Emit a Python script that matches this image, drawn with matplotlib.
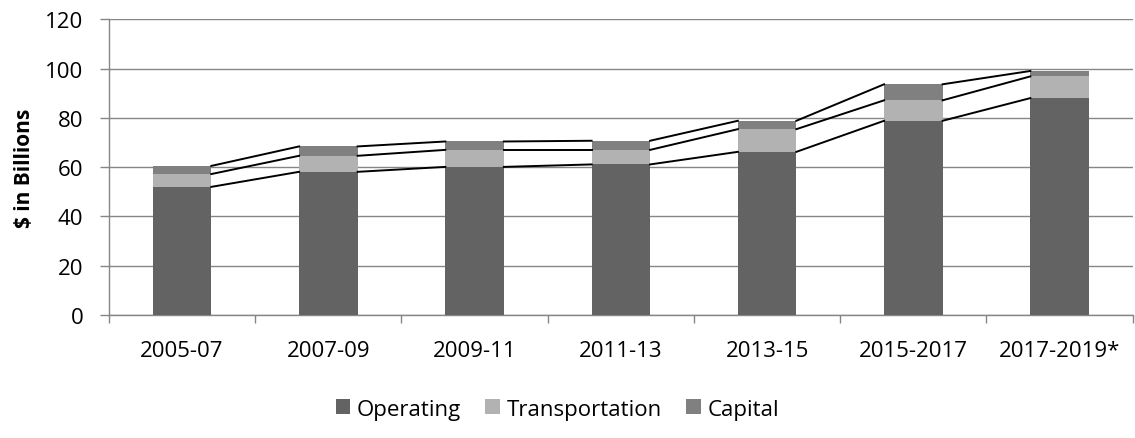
import numpy as np
import matplotlib.pyplot as plt
from matplotlib.ticker import FixedLocator

# biennium labels and values ($ in billions)
periods = ['2005-07', '2007-09', '2009-11', '2011-13', '2013-15', '2015-2017', '2017-2019*']
operating = [52.0, 58.1, 60.1, 61.1, 66.2, 78.8, 88.0]
transportation = [5.2, 6.5, 6.9, 5.9, 9.2, 8.3, 8.8]
capital = [3.3, 3.8, 3.4, 3.7, 3.4, 6.5, 2.2]

plt.rcParams['font.family'] = ['Open Sans', 'DejaVu Sans']
fs = 16

fig = plt.figure(figsize=(11.35, 4.39), dpi=100)
ax = fig.add_axes([0.096, 0.280, 0.902, 0.674])

x = np.arange(len(periods))
w = 0.40
op = np.array(operating)
tr = np.array(transportation)
cp = np.array(capital)

ax.bar(x, op, w, color='#636363', label='Operating', zorder=3)
ax.bar(x, tr, w, bottom=op, color='#b2b2b2', label='Transportation', zorder=3)
ax.bar(x, cp, w, bottom=op + tr, color='#808080', label='Capital', zorder=3)

# series lines joining the tops of each segment
for level in [op, op + tr, op + tr + cp]:
    for i in range(len(x) - 1):
        ax.plot([x[i] + w / 2, x[i + 1] - w / 2], [level[i], level[i + 1]],
                color='black', lw=1.4, zorder=4)

ax.set_xlim(-0.5, len(x) - 0.5)
ax.set_ylim(0, 120)
ax.set_yticks(np.arange(0, 121, 20))
ax.set_xticks(x)
ax.set_xticklabels(periods, fontsize=fs)
ax.xaxis.set_minor_locator(FixedLocator(np.arange(-0.5, len(x), 1.0)))
ax.tick_params(axis='x', which='major', length=0, pad=18)
ax.tick_params(axis='x', which='minor', length=6, color='#868686', width=1)
ax.tick_params(axis='y', length=6.5, color='#868686', width=1, labelsize=fs, pad=12)

ax.grid(axis='y', color='#868686', lw=1, zorder=0)
for s in ['top', 'right']:
    ax.spines[s].set_visible(False)
for s in ['left', 'bottom']:
    ax.spines[s].set_color('#868686')
    ax.spines[s].set_linewidth(1)

ax.set_ylabel('$ in Billions', fontsize=fs - 1, fontweight='bold', labelpad=7)

fig.legend(loc='center', bbox_to_anchor=(0.491, 0.066), ncol=3, frameon=False,
           fontsize=fs, handlelength=0.65, handleheight=0.65, handletextpad=0.3,
           columnspacing=1.1)

fig.savefig('out.png', dpi=100)
